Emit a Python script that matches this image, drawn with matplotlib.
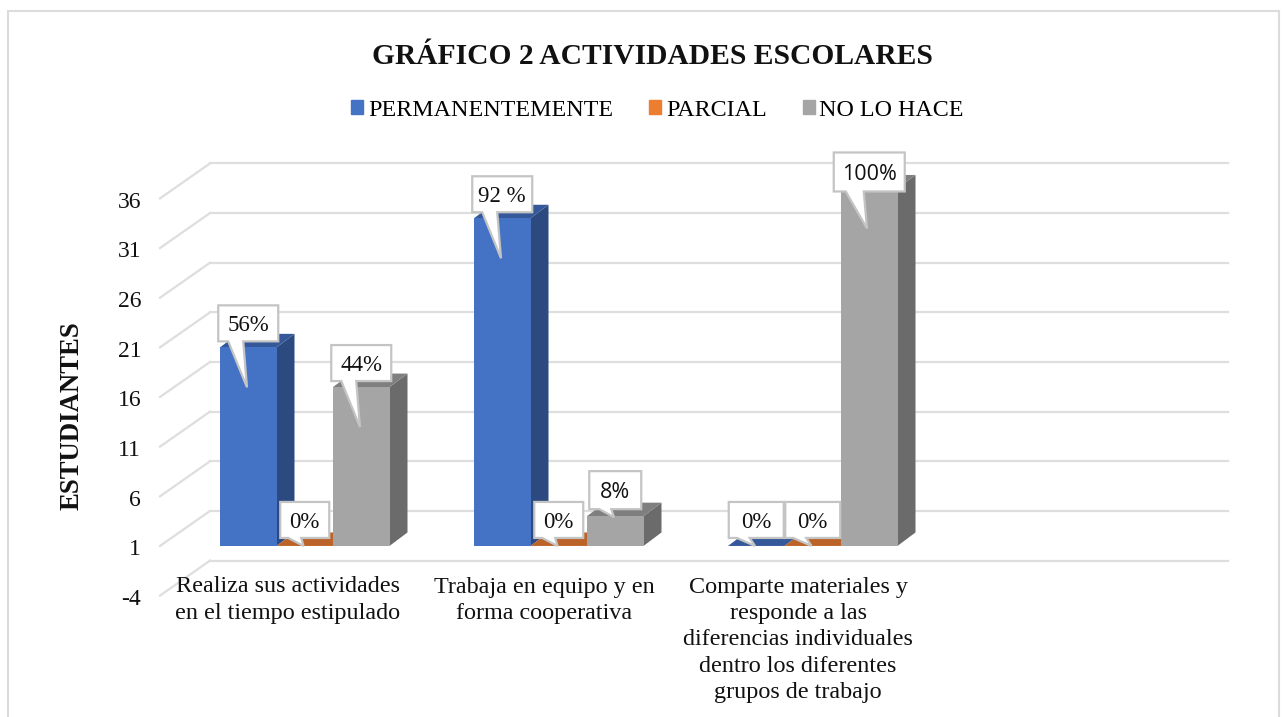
import matplotlib
matplotlib.use("Agg")
import matplotlib.pyplot as plt
from matplotlib.patches import Patch, Polygon, Rectangle
from matplotlib.transforms import ScaledTranslation

plt.rcParams['font.family'] = ['Liberation Serif', 'DejaVu Serif']

title = "GRÁFICO 2 ACTIVIDADES ESCOLARES"
categories = ["Realiza sus actividades\nen el tiempo estipulado",
              "Trabaja en equipo y en\nforma cooperativa",
              "Comparte materiales y\nresponde a las\ndiferencias individuales\ndentro los diferentes\ngrupos de trabajo"]
series_names = ["PERMANENTEMENTE", "PARCIAL", "NO LO HACE"]
permanentemente = [20, 33, 0]
parcial = [0, 0, 0]
no_lo_hace = [16, 3, 36]
pct_permanentemente = ["56%", "92 %", "0%"]
pct_parcial = ["0%", "0%", "0%"]
pct_no_lo_hace = ["44%", "8%", "100%"]
y_ticks = [-5, 0, 5, 10, 15, 20, 25, 30, 35]
y_labels = ["-4", "1", "6", "11", "16", "21", "26", "31", "36"]

front = ["#4472c4", "#ed7d31", "#a5a5a5"]
side = ["#2c4a80", "#a5561f", "#6b6b6b"]
top = ["#35589a", "#bb6328", "#7f7f7f"]

W, H = 1287, 717
fig = plt.figure(figsize=(W / 100, H / 100), dpi=100, facecolor="white")

# axes frame in pixels of the reference
left, right, y_bottom, y_top = 160, 1228, 595.6, 150
ax = fig.add_axes([left / W, 1 - y_bottom / H, (right - left) / W, (y_bottom - y_top) / H])
px_x = 1 / 254   # one pixel in category units
px_y = 1 / 9.93  # one pixel in value units
ax.set_xlim(0, (right - left) * px_x)
ax.set_ylim(-5, -5 + (y_bottom - y_top) * px_y)
for s in ax.spines.values():
    s.set_visible(False)
ax.set_xticks([])
ax.set_yticks(y_ticks)
ax.set_yticklabels(y_labels, fontsize=17, color="#111111")
ax.tick_params(axis="y", length=0, pad=13.5)
for lbl in ax.get_yticklabels():
    lbl.set_transform(lbl.get_transform() + ScaledTranslation(0, -1 / 72, fig.dpi_scale_trans))
ax.patch.set_alpha(0)

# back wall grid and the slanted floor lines
wall_dx = 50 * px_x
wall_dy = 35 * px_y
grid_c = "#dedede"
for t in y_ticks:
    ax.plot([0, wall_dx], [t, t + wall_dy], color=grid_c, lw=1.6, clip_on=False, zorder=1)
    ax.plot([wall_dx, ax.get_xlim()[1]], [t + wall_dy, t + wall_dy], color=grid_c, lw=1.6, clip_on=False, zorder=1)

# bars with their depth
bar_w = 56.5 * px_x
bar_start = 60 * px_x
depth_x = 18 * px_x
depth_y = 13.5 * px_y
all_values = [permanentemente, parcial, no_lo_hace]
all_pct = [pct_permanentemente, pct_parcial, pct_no_lo_hace]


def callout(x, v, text, box_w, box_h, gap, tip_drop, base, tip_x):
    # white speech box above a bar, sizes are pixels relative to the bar top
    x0 = x + (bar_w - box_w * px_x) / 2
    x1 = x0 + box_w * px_x
    y0 = v + gap * px_y
    y1 = y0 + box_h * px_y
    tip = (x + tip_x * px_x, v - tip_drop * px_y)
    pts = [(x0, y0), (x0 + base[0] * px_x, y0), tip, (x0 + base[1] * px_x, y0),
           (x1, y0), (x1, y1), (x0, y1)]
    ax.add_patch(Polygon(pts, closed=True, fc="white", ec="#c4c4c4", lw=1.6,
                         joinstyle="miter", clip_on=False, zorder=20))
    sans = text in ("100%", "8%")
    ax.text((x0 + x1) / 2, (y0 + y1) / 2, text, ha="center", va="center_baseline",
            fontsize=15.5 if sans else 16.5, color="#111111", zorder=21, clip_on=False,
            family="Open Sans" if sans else None)


for i in range(len(categories)):
    for j in range(3):
        v = all_values[j][i]
        x = i + bar_start + j * bar_w
        ax.bar(x, v, width=bar_w, align="edge", color=front[j], zorder=5 + i, clip_on=False)
        ax.add_patch(Polygon([(x + bar_w, 0), (x + bar_w + depth_x, depth_y),
                              (x + bar_w + depth_x, v + depth_y), (x + bar_w, v)],
                             closed=True, fc=side[j], ec="none", zorder=4 + i, clip_on=False))
        ax.add_patch(Polygon([(x, v), (x + depth_x, v + depth_y),
                              (x + bar_w + depth_x, v + depth_y), (x + bar_w, v)],
                             closed=True, fc=top[j], ec="none", zorder=4 + i, clip_on=False))

for i in range(len(categories)):
    for j in range(3):
        v = all_values[j][i]
        x = i + bar_start + j * bar_w
        t = all_pct[j][i]
        if v == 0:
            w = 55 if i == 2 else 49
            callout(x, v, t, w, 36, 8, 0, (8, 21), 27)
        elif t == "100%":
            callout(x, v, t, 71, 39, -3, 40, (12, 30), 26)
        elif t == "8%":
            callout(x, v, t, 52, 38, 7, 1, (10, 22), 27)
        else:
            callout(x, v, t, 60, 36, 6, 40, (10, 25), 27)

# category labels
label_x = [288, 544, 798]
for lx, c in zip(label_x, categories):
    ax.text((lx - left) * px_x, -5 + (595.6 - 576.5) * px_y, c, ha="center", va="top",
            fontsize=17.4, linespacing=1.34, color="#111111", clip_on=False)

# title, legend, y label
fig.text(652 / W, 1 - 56 / H, title, ha="center", va="center", fontsize=21.25, fontweight="bold", color="#111111")
fig.text(72 / W, 1 - 416 / H, "ESTUDIANTES", rotation=90, ha="center", va="center",
         fontsize=19.3, fontweight="bold", color="#111111")
handles = [Patch(color=c, label=n) for c, n in zip(front, series_names)]
fig.legend(handles=handles, loc="center", bbox_to_anchor=(657.5 / W, 1 - 110 / H), ncol=3, frameon=False,
           fontsize=17.3, handlelength=0.5, handleheight=0.5, handletextpad=0.2, columnspacing=1.5)

# outer frame
fig.add_artist(Rectangle((8 / W, -0.01), (1279 - 8) / W, 1 - 11 / H + 0.01, transform=fig.transFigure,
                         fc="none", ec="#dcdcdc", lw=1.5))

fig.savefig("out.png", dpi=100)
